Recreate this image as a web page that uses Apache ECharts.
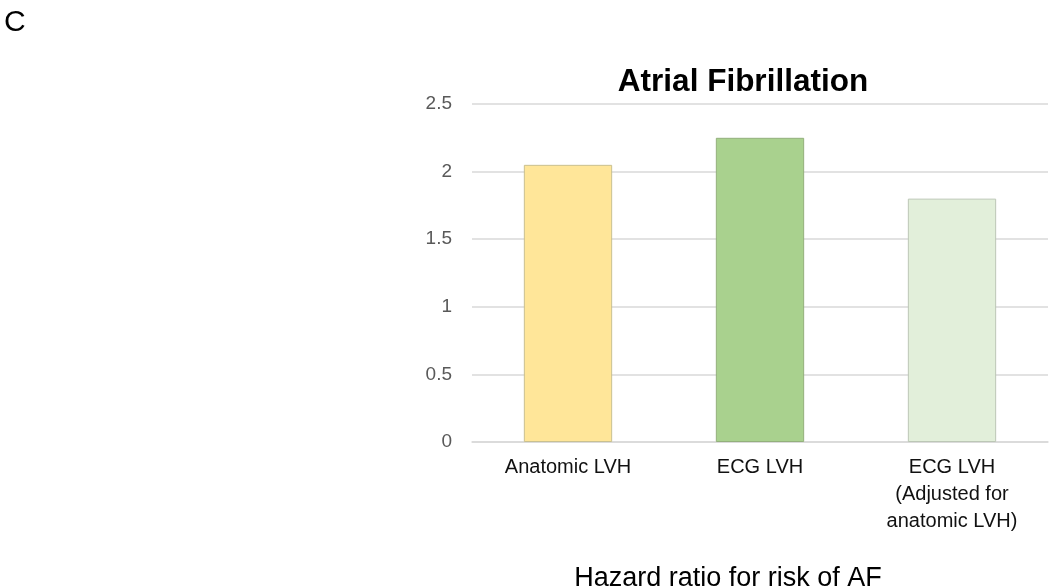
<!DOCTYPE html>
<html><head><meta charset="utf-8">
<script src="https://cdn.jsdelivr.net/npm/echarts@6/dist/echarts.min.js"></script>
<style>html,body{margin:0;padding:0;background:#fff}#c{width:1050px;height:587px}</style>
</head><body><div id="c"></div>
<script>
const categories = ['Anatomic LVH', 'ECG LVH', 'ECG LVH\n(Adjusted for\nanatomic LVH)'];
const values = [2.05, 2.25, 1.80];
const barColors = ['#FFE699', '#A9D18E', '#E2EFDA'];
const borderColors = ['#C9C090', '#93B07C', '#BCC7B6'];
const yTicks = [0, 0.5, 1, 1.5, 2, 2.5];

const chart = echarts.init(document.getElementById('c'));
chart.setOption({
  animation: false,
  title: [
    {text: 'Atrial Fibrillation', left: 738, top: 61, textAlign: 'center',
     textStyle: {fontFamily: 'Arial, Liberation Sans', fontSize: 31.5, fontWeight: 'bold', color: '#000'}},
    {text: 'C', left: -1, top: 3,
     textStyle: {fontFamily: 'Arial, Liberation Sans', fontSize: 30, fontWeight: 'normal', color: '#000'}},
    {text: 'Hazard ratio for risk of AF', left: 723, top: 560, textAlign: 'center',
     textStyle: {fontFamily: 'Arial, Liberation Sans', fontSize: 27, fontWeight: 'normal', color: '#000'}}
  ],
  grid: {left: 472, right: 2, top: 104, bottom: 145, containLabel: false},
  xAxis: {
    type: 'category', data: categories,
    axisLine: {show: true, lineStyle: {color: '#D9D9D9', width: 1.5}},
    axisTick: {show: false},
    axisLabel: {fontFamily: 'Arial, Liberation Sans', fontSize: 20, color: '#111', lineHeight: 27, margin: 12}
  },
  yAxis: {
    type: 'value', min: 0, max: 2.5, interval: 0.5,
    axisLine: {show: false}, axisTick: {show: false},
    axisLabel: {fontFamily: 'Arial, Liberation Sans', fontSize: 19, color: '#595959', margin: 20,
      formatter: v => yTicks.includes(v) ? String(v) : ''},
    splitLine: {lineStyle: {color: '#D9D9D9', width: 1.5}}
  },
  series: [{
    type: 'bar', barWidth: '46%',
    data: values.map((v, i) => ({value: v, itemStyle: {color: barColors[i], borderColor: borderColors[i], borderWidth: 1}}))
  }]
});
</script></body></html>
